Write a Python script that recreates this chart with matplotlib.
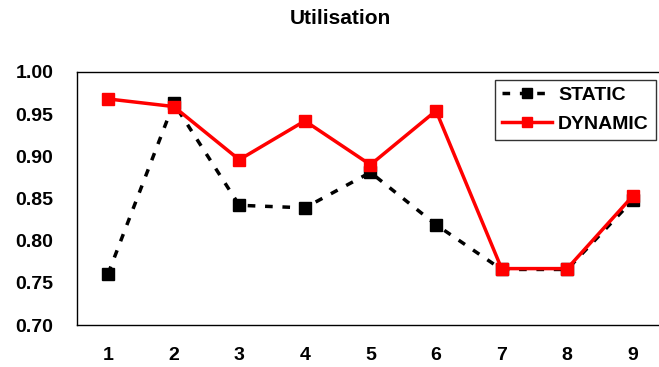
import matplotlib
matplotlib.use('Agg')
from matplotlib import pyplot as plt

runs = [1, 2, 3, 4, 5, 6, 7, 8, 9]
static = [0.761, 0.963, 0.842, 0.839, 0.881, 0.819, 0.766, 0.766, 0.848]
dynamic = [0.968, 0.959, 0.896, 0.942, 0.890, 0.954, 0.767, 0.767, 0.853]

plt.rcParams['font.family'] = ['Liberation Sans', 'DejaVu Sans']
plt.rcParams['font.weight'] = 'bold'

fig = plt.figure(figsize=(6.59, 3.67), dpi=100)
ax = fig.add_axes([0.117, 0.114, 0.881, 0.690])

ax.plot(runs, static, color='black', ls=(0, (2.2, 2.8)), lw=2.5,
        marker='s', ms=8.5, label='STATIC')
ax.plot(runs, dynamic, color='red', ls='-', lw=2.5,
        marker='s', ms=8.5, label='DYNAMIC')

ax.set_xlim(0.527, 9.38)
ax.set_ylim(0.70, 1.00)
ax.set_xticks(runs)
ax.set_yticks([0.70, 0.75, 0.80, 0.85, 0.90, 0.95, 1.00])
ax.set_yticklabels(["%.2f" % v for v in ax.get_yticks()])
ax.tick_params(length=0, labelsize=14)
ax.tick_params(axis='y', pad=17)
ax.tick_params(axis='x', pad=16)
for s in ax.spines.values():
    s.set_linewidth(1)
ax.spines['right'].set_visible(False)

fig.suptitle('Utilisation', x=0.517, fontsize=15, fontweight='bold', y=0.975)

leg = ax.legend(loc='upper right', bbox_to_anchor=(0.9966, 0.97), fontsize=14,
                frameon=True, fancybox=False, edgecolor='black',
                handlelength=2.6, borderaxespad=0.0, borderpad=0.35,
                labelspacing=0.6, handletextpad=0.3, markerscale=0.9)
leg.get_frame().set_linewidth(1)

plt.savefig('out.png', dpi=100)
